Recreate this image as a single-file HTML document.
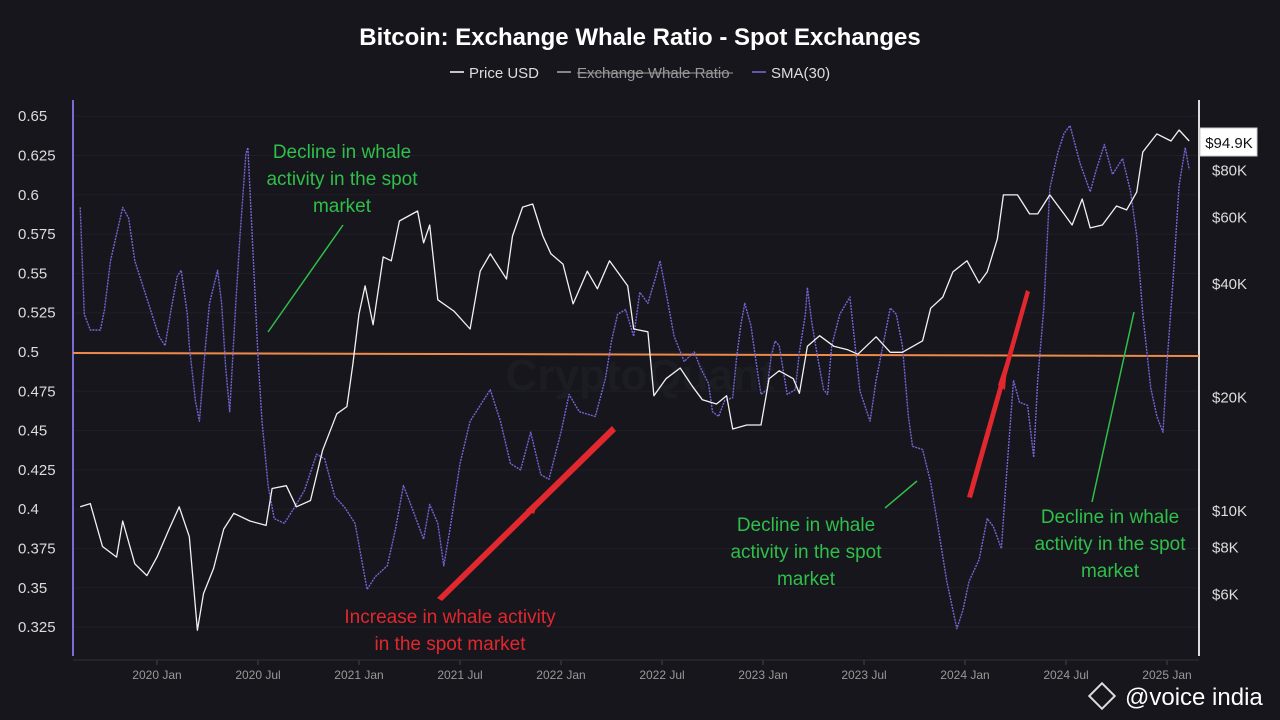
<!DOCTYPE html>
<html><head><meta charset="utf-8"><style>
body{margin:0;background:#16161c;width:1280px;height:720px;overflow:hidden;font-family:"Liberation Sans","DejaVu Sans",sans-serif}
svg{display:block}
</style></head><body>
<svg id="chart" width="1280" height="720" viewBox="0 0 1280 720">
<rect width="1280" height="720" fill="#16161c"/>
<text x="640" y="45" text-anchor="middle" fill="#fff" font-size="24" font-weight="bold">Bitcoin: Exchange Whale Ratio - Spot Exchanges</text>
<g font-size="15" fill="#ddd">
<g><line x1="450" y1="72" x2="464" y2="72" stroke="#fff" stroke-width="1.5"/><text x="469" y="78">Price USD</text></g>
<g><line x1="557" y1="72" x2="571" y2="72" stroke="#aaa" stroke-width="1.5"/><text x="577" y="78" fill="#999">Exchange Whale Ratio</text><line x1="577" y1="73" x2="733" y2="73" stroke="#999"/></g>
<g><line x1="752" y1="72" x2="766" y2="72" stroke="#7a6cd6" stroke-width="1.5"/><text x="771" y="78">SMA(30)</text></g>
</g>
<g id="grid"></g>
<g id="yleft" font-size="15" fill="#ddd"></g>
<g id="yright" font-size="15" fill="#ddd"></g>
<g id="xaxis" font-size="12" fill="#999"></g>
<line x1="73" y1="100" x2="73" y2="656" stroke="#7a6cd6" stroke-width="2"/>
<line x1="1199" y1="100" x2="1199" y2="656" stroke="#ddd" stroke-width="2"/>
<line x1="73" y1="660" x2="1199" y2="660" stroke="#333"/>
<text x="640" y="390" text-anchor="middle" fill="#1c1c23" font-size="44" font-weight="bold">CryptoQuant</text>
<line x1="73" y1="353" x2="1199" y2="356" stroke="#f08a4b" stroke-width="2"/>
<g id="series"></g>
<g font-size="19" fill="#2fbf4a" text-anchor="middle">
<text x="342" y="158"><tspan x="342">Decline in whale</tspan><tspan x="342" dy="27">activity in the spot</tspan><tspan x="342" dy="27">market</tspan></text>
<line x1="268" y1="332" x2="343" y2="225" stroke="#2fbf4a" stroke-width="1.5"/>
<text x="806" y="531"><tspan x="806">Decline in whale</tspan><tspan x="806" dy="27">activity in the spot</tspan><tspan x="806" dy="27">market</tspan></text>
<line x1="885" y1="508" x2="917" y2="481" stroke="#2fbf4a" stroke-width="1.5"/>
<text x="1110" y="523"><tspan x="1110">Decline in whale</tspan><tspan x="1110" dy="27">activity in the spot</tspan><tspan x="1110" dy="27">market</tspan></text>
<line x1="1092" y1="502" x2="1134" y2="312" stroke="#2fbf4a" stroke-width="1.5"/>
<text x="450" y="623" fill="#e0282e"><tspan x="450">Increase in whale activity</tspan><tspan x="450" dy="27">in the spot market</tspan></text>
<polygon points="437,598 612,426 616,431 442,601" fill="#e0282e"/>
<polygon points="526,510 540,497 534,514" fill="#e0282e"/>
<polygon points="967,497 1026,290 1030,292 972,498" fill="#e0282e"/>
<polygon points="998,385 1008,355 1005,390" fill="#e0282e"/>
</g>
<g><rect x="1200" y="128" width="57" height="28" fill="#fff" stroke="#ccc"/><text x="1229" y="148" text-anchor="middle" font-size="15" fill="#111">$94.9K</text></g>
<g><rect x="1093" y="687" width="18" height="18" transform="rotate(45 1102 696)" fill="none" stroke="#ddd" stroke-width="2"/><text x="1125" y="705" font-size="24" fill="#fff">@voice india</text></g>
</svg>
<script>
const smaDates=[2019.62,2019.64,2019.67,2019.72,2019.74,2019.77,2019.83,2019.86,2019.89,2019.94,2020.01,2020.04,2020.07,2020.10,2020.12,2020.15,2020.16,2020.19,2020.21,2020.24,2020.26,2020.30,2020.32,2020.34,2020.36,2020.39,2020.41,2020.44,2020.45,2020.47,2020.50,2020.52,2020.55,2020.58,2020.63,2020.68,2020.73,2020.79,2020.83,2020.88,2020.93,2020.98,2021.04,2021.08,2021.14,2021.18,2021.22,2021.25,2021.32,2021.35,2021.39,2021.42,2021.45,2021.50,2021.55,2021.60,2021.65,2021.70,2021.75,2021.80,2021.85,2021.90,2021.94,2022.00,2022.04,2022.09,2022.17,2022.22,2022.25,2022.28,2022.32,2022.36,2022.39,2022.43,2022.47,2022.49,2022.51,2022.56,2022.61,2022.66,2022.69,2022.73,2022.75,2022.78,2022.81,2022.85,2022.87,2022.89,2022.91,2022.94,2022.97,2022.99,2023.02,2023.04,2023.06,2023.08,2023.12,2023.16,2023.18,2023.21,2023.22,2023.24,2023.27,2023.30,2023.32,2023.34,2023.38,2023.43,2023.48,2023.53,2023.56,2023.63,2023.66,2023.69,2023.72,2023.74,2023.79,2023.83,2023.86,2023.91,2023.96,2023.99,2024.02,2024.07,2024.11,2024.14,2024.18,2024.20,2024.24,2024.27,2024.31,2024.34,2024.36,2024.39,2024.42,2024.46,2024.49,2024.52,2024.57,2024.62,2024.65,2024.69,2024.73,2024.78,2024.82,2024.85,2024.88,2024.92,2024.95,2024.98,2025.00,2025.03,2025.06,2025.09,2025.11];
const smaValues=[0.592,0.524,0.514,0.514,0.527,0.558,0.592,0.585,0.558,0.538,0.510,0.504,0.527,0.548,0.552,0.524,0.504,0.469,0.456,0.504,0.531,0.552,0.531,0.490,0.462,0.531,0.572,0.626,0.630,0.578,0.497,0.456,0.415,0.394,0.391,0.401,0.412,0.435,0.432,0.408,0.401,0.391,0.349,0.357,0.364,0.387,0.415,0.405,0.381,0.403,0.391,0.364,0.387,0.429,0.456,0.466,0.476,0.456,0.429,0.425,0.449,0.422,0.419,0.449,0.473,0.462,0.459,0.483,0.507,0.524,0.527,0.510,0.538,0.531,0.548,0.558,0.545,0.510,0.494,0.500,0.490,0.480,0.462,0.459,0.469,0.471,0.497,0.517,0.531,0.517,0.490,0.473,0.476,0.497,0.507,0.504,0.473,0.476,0.500,0.524,0.541,0.520,0.497,0.476,0.473,0.504,0.524,0.535,0.475,0.456,0.482,0.528,0.524,0.504,0.459,0.440,0.438,0.417,0.394,0.354,0.324,0.336,0.354,0.368,0.394,0.389,0.375,0.412,0.482,0.468,0.466,0.433,0.482,0.528,0.604,0.627,0.639,0.644,0.620,0.602,0.616,0.632,0.613,0.623,0.602,0.574,0.524,0.477,0.459,0.449,0.493,0.546,0.606,0.630,0.616];
const priceDates=[2019.62,2019.67,2019.73,2019.80,2019.83,2019.89,2019.95,2020.00,2020.06,2020.11,2020.16,2020.20,2020.23,2020.28,2020.33,2020.38,2020.46,2020.54,2020.57,2020.64,2020.69,2020.76,2020.82,2020.89,2020.94,2020.97,2021.00,2021.03,2021.07,2021.12,2021.16,2021.20,2021.29,2021.32,2021.35,2021.39,2021.47,2021.55,2021.60,2021.65,2021.73,2021.76,2021.81,2021.86,2021.91,2021.95,2022.01,2022.06,2022.13,2022.18,2022.24,2022.33,2022.36,2022.43,2022.46,2022.52,2022.59,2022.65,2022.70,2022.77,2022.82,2022.85,2022.92,2022.99,2023.03,2023.08,2023.15,2023.18,2023.22,2023.28,2023.35,2023.42,2023.47,2023.56,2023.63,2023.69,2023.79,2023.83,2023.89,2023.94,2024.01,2024.07,2024.11,2024.16,2024.19,2024.26,2024.32,2024.36,2024.42,2024.49,2024.53,2024.58,2024.62,2024.68,2024.75,2024.80,2024.85,2024.88,2024.95,2025.02,2025.06,2025.11];
const priceValues=[10.2,10.4,8.0,7.5,9.35,7.2,6.7,7.5,8.9,10.2,8.5,4.8,6.0,7.0,8.9,9.8,9.35,9.1,11.4,11.6,10.2,10.6,14.4,18.0,18.8,24.4,33.1,39.3,31.0,46.9,45.8,58.4,62.1,51.1,57.0,36.1,33.7,30.2,43.0,47.8,41.0,53.3,63.6,64.8,53.3,47.8,44.9,35.2,43.0,38.6,45.8,39.3,30.2,29.7,20.1,22.3,23.8,21.3,19.6,19.1,20.1,16.4,16.8,16.8,22.3,23.4,22.3,20.4,27.2,29.0,27.2,26.6,25.9,28.8,26.2,26.2,28.1,34.3,36.7,42.8,45.8,40.0,42.8,52.3,68.5,68.5,61.0,61.0,68.5,61.0,57.0,66.8,56.0,57.0,64.0,62.5,69.7,89.0,99.4,95.2,101.8,95.2];
const leftTicks=[0.65,0.625,0.6,0.575,0.55,0.525,0.5,0.475,0.45,0.425,0.4,0.375,0.35,0.325];
const rightTicks=[80,60,40,20,10,8,6];
const rightTickLabels=["$80K","$60K","$40K","$20K","$10K","$8K","$6K"];
const xTicks=[2020,2020.5,2021,2021.5,2022,2022.5,2023,2023.5,2024,2024.5,2025];
const xTickLabels=["2020 Jan","2020 Jul","2021 Jan","2021 Jul","2022 Jan","2022 Jul","2023 Jan","2023 Jul","2024 Jan","2024 Jul","2025 Jan"];

const NS="http://www.w3.org/2000/svg";
const xs=t=>157+(t-2020)*202;
const yl=v=>352-(v-0.5)*1572;
const yr=p=>510-Math.log2(p/10)*113.5;
function mk(tag,attrs,parent){const e=document.createElementNS(NS,tag);for(const k in attrs)e.setAttribute(k,attrs[k]);parent.appendChild(e);return e;}
const grid=document.getElementById('grid'),yL=document.getElementById('yleft'),yR=document.getElementById('yright'),xA=document.getElementById('xaxis'),ser=document.getElementById('series');
leftTicks.forEach(v=>{
 const g=mk('line',{x1:74,x2:1198,y1:yl(v),y2:yl(v),stroke:'#1f1f27','stroke-width':1},grid);
 
 
 const t=mk('text',{x:18,y:yl(v)+5},yL);t.textContent=String(v);
 
 
});
rightTicks.forEach((p,i)=>{
 const t=mk('text',{x:1212,y:yr(p)+6},yR);t.textContent=rightTickLabels[i];
 
 
});
xTicks.forEach((d,i)=>{
 const t=mk('text',{x:xs(d),y:679,'text-anchor':'middle'},xA);t.textContent=xTickLabels[i];
 
 
 mk('line',{x1:xs(d),x2:xs(d),y1:660,y2:665,stroke:'#444'},xA);
});
const sma=mk('polyline',{points:smaDates.map((d,i)=>xs(d).toFixed(1)+','+yl(smaValues[i]).toFixed(1)).join(' '),fill:'none',stroke:'#7566d4','stroke-width':1.4,'stroke-dasharray':'2 1','stroke-linejoin':'round'},ser);


const pr=mk('polyline',{points:priceDates.map((d,i)=>xs(d).toFixed(1)+','+yr(priceValues[i]).toFixed(1)).join(' '),fill:'none',stroke:'#f2f2f2','stroke-width':1.3,'stroke-linejoin':'round'},ser);


</script>
</body></html>
